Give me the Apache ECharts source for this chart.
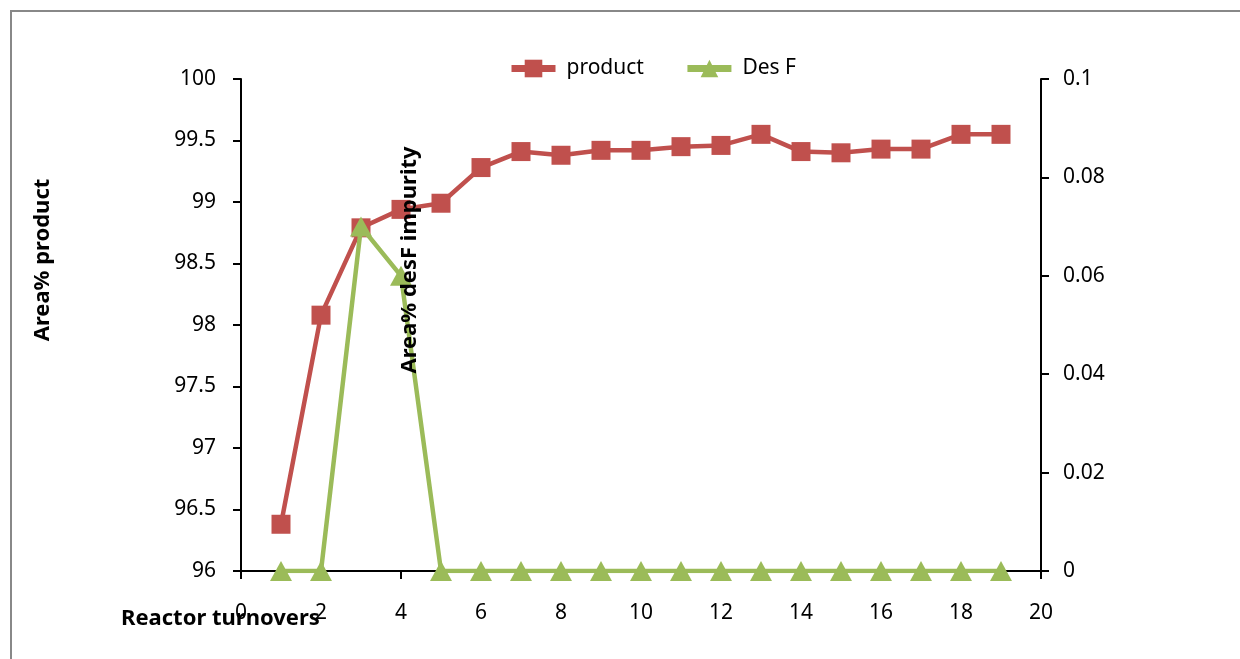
<!DOCTYPE html>
<html><head><meta charset="utf-8">
<script src="https://cdn.jsdelivr.net/npm/echarts@6/dist/echarts.min.js"></script>
<style>html,body{margin:0;padding:0;background:#fff}#c{width:1240px;height:659px}</style>
</head><body><div id="c"></div>
<script>
const turnovers = [1,2,3,4,5,6,7,8,9,10,11,12,13,14,15,16,17,18,19];
const product = [96.38,98.08,98.79,98.94,98.99,99.28,99.41,99.38,99.42,99.42,99.45,99.46,99.55,99.41,99.40,99.43,99.43,99.55,99.55];
const desF = [0,0,0.07,0.06,0,0,0,0,0,0,0,0,0,0,0,0,0,0,0];
const seriesNames = ['product','Des F'];
const axisTitles = {left:'Area% product', right:'Area% desF impurity', x:'Reactor turnovers'};

const FONT = '"Noto Sans", "Open Sans", sans-serif';
const chart = echarts.init(document.getElementById('c'));
const axisLine = {show:true, lineStyle:{color:'#000', width:2}};
const axisTick = {show:true, length:8, lineStyle:{color:'#000', width:2}};
chart.setOption({
  animation:false,
  backgroundColor:'#fff',
  grid:{left:241, right:199, top:79, bottom:88, containLabel:false},
  legend:{
    left:503, top:53, itemWidth:44, itemHeight:22, itemGap:40,
    lineStyle:{width:7},
    textStyle:{fontFamily:FONT, fontSize:21, color:'#000', padding:[0,0,0,6]},
    data:seriesNames
  },
  xAxis:{
    type:'value', min:0, max:20, interval:2,
    axisLine:axisLine, axisTick:axisTick, splitLine:{show:false},
    axisLabel:{fontFamily:FONT, fontSize:21, color:'#000', margin:32}
  },
  yAxis:[
    {type:'value', min:96, max:100, interval:0.5, position:'left',
     axisLine:axisLine, axisTick:axisTick, splitLine:{show:false},
     axisLabel:{fontFamily:FONT, fontSize:21, color:'#000', margin:25}},
    {type:'value', min:0, max:0.1, interval:0.02, position:'right',
     axisLine:axisLine, axisTick:axisTick, splitLine:{show:false},
     axisLabel:{fontFamily:FONT, fontSize:21, color:'#000', margin:22}}
  ],
  series:[
    {name:seriesNames[0], type:'line', yAxisIndex:0,
     data:turnovers.map((x,i)=>[x,product[i]]),
     symbol:'rect', symbolSize:19,
     itemStyle:{color:'#C0504D'}, lineStyle:{color:'#C0504D', width:4.5}, z:2},
    {name:seriesNames[1], type:'line', yAxisIndex:1,
     data:turnovers.map((x,i)=>[x,desF[i]]),
     symbol:'triangle', symbolSize:[22,20],
     itemStyle:{color:'#9BBB59'}, lineStyle:{color:'#9BBB59', width:4.5}, z:3}
  ],
  graphic:[
    {type:'rect', shape:{x:11, y:11, width:1400, height:800}, style:{fill:'none', stroke:'#888', lineWidth:2}, silent:true},
    {type:'text', x:43, y:260, rotation:Math.PI/2, style:{text:axisTitles.left, font:'bold 22px '+FONT, fill:'#000', align:'center', verticalAlign:'middle'}},
    {type:'text', x:410, y:260, rotation:Math.PI/2, z:10, style:{text:axisTitles.right, font:'bold 22px '+FONT, fill:'#000', align:'center', verticalAlign:'middle'}},
    {type:'text', x:121, y:619, z:10, style:{text:axisTitles.x, font:'bold 22px '+FONT, fill:'#000', align:'left', verticalAlign:'middle'}}
  ]
});
</script></body></html>
